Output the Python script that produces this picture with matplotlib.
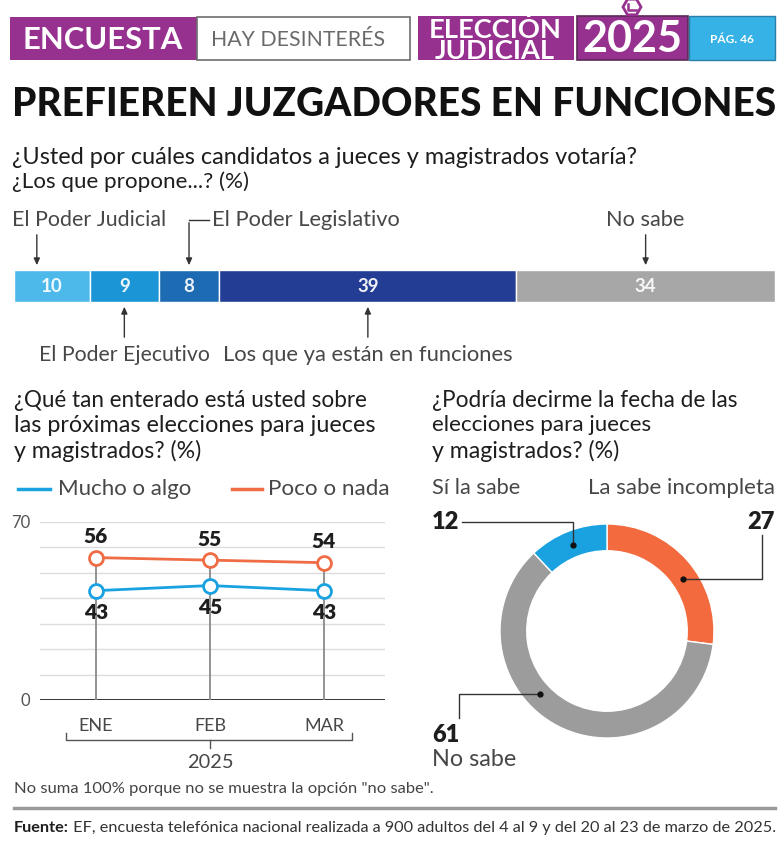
import matplotlib
matplotlib.use('Agg')
import matplotlib.pyplot as plt
import matplotlib.transforms as mtransforms
from matplotlib.patches import Rectangle, RegularPolygon
import numpy as np

W, H = 784, 849
plt.rcParams['font.family'] = ['Lato', 'DejaVu Sans']

# ---------------- data ----------------
bar_categories = ['El Poder Judicial', 'El Poder Ejecutivo', 'El Poder Legislativo',
                  'Los que ya están en funciones', 'No sabe']
bar_values = [10, 9, 8, 39, 34]
bar_colors = ['#4cb9ea', '#1c95d6', '#1d6cb3', '#223d93', '#a7a7a7']

months = ['ENE', 'FEB', 'MAR']
mucho_algo = [43, 45, 43]
poco_nada = [56, 55, 54]
y_ticks = [0, 70]

donut_labels = ['La sabe incompleta', 'No sabe', 'Sí la sabe']
donut_values = [27, 61, 12]
donut_colors = ['#f26a3d', '#9c9c9c', '#1aa2e0']

PURPLE = '#97318f'
DARK = '#1e1e1e'
GRAY_TXT = '#474747'
BLUE_LINE = '#1aa2e0'
ORANGE_LINE = '#f06c45'

fig = plt.figure(figsize=(W / 100, H / 100), dpi=100)
canvas = fig.add_axes([0, 0, 1, 1])
canvas.set_xlim(0, W)
canvas.set_ylim(H, 0)
canvas.axis('off')


def px_axes(x0, y0, x1, y1):
    return fig.add_axes([x0 / W, 1 - y1 / H, (x1 - x0) / W, (y1 - y0) / H])


fits = []  # (text, target width)


def T(x, y, s, size=12, width=None, ax=None, **kw):
    ax = ax or canvas
    kw.setdefault('va', 'center')
    kw.setdefault('color', DARK)
    t = ax.text(x, y, s, fontsize=size, **kw)
    if width is not None:
        fits.append((t, width))
    return t


# ---------------- header ----------------
canvas.add_patch(Rectangle((10, 17), 187, 43, fc=PURPLE, ec='none'))
canvas.add_patch(Rectangle((197, 17), 213, 43, fc='white', ec='#6d6d6d', lw=1.2))
canvas.add_patch(Rectangle((418, 16), 156, 44, fc=PURPLE, ec='none'))
canvas.add_patch(Rectangle((577, 16), 111, 44, fc=PURPLE, ec='#5a2a55', lw=1.2))
canvas.add_patch(Rectangle((689, 16), 86, 44, fc='#36b2e6', ec='#2a7fa8', lw=1))
canvas.add_patch(RegularPolygon((632, 7), 6, radius=9, orientation=np.pi / 6,
                                fc='white', ec=PURPLE, lw=2))
canvas.plot([628, 628, 636], [4, 10, 10], color=PURPLE, lw=1.8)

T(103, 40, 'ENCUESTA', 18, width=160, ha='center', color='white', fontweight='bold')
T(298, 40, 'HAY DESINTERÉS', 18, width=173, ha='center', color='#6a6a6a')
T(495, 40, 'ELECCIÓN\nJUDICIAL', 16, width=132, ha='center', multialignment='center',
  linespacing=0.85, color='white', fontweight='bold')
T(632, 39, '2025', 26, width=100, ha='center', color='white', fontweight='bold')
T(732, 39, 'PÁG. 46', 8, width=44, ha='center', color='white', fontweight='bold')

# ---------------- title ----------------
T(12, 104, 'PREFIEREN JUZGADORES EN FUNCIONES', 30, width=760, ha='left',
  color='#111111', fontweight='black')
T(12, 157, '¿Usted por cuáles candidatos a jueces y magistrados votaría?', 14,
  width=628, ha='left', color=DARK)
T(12, 182, '¿Los que propone...? (%)', 14, width=238, ha='left', color=DARK)

# ---------------- stacked bar ----------------
axb = px_axes(14, 270, 775, 302)
left = np.concatenate([[0], np.cumsum(bar_values)[:-1]])
axb.barh([0], bar_values, left=left, color=bar_colors, height=1.0,
         edgecolor='white', linewidth=1)
axb.set_xlim(0, sum(bar_values))
axb.set_ylim(-0.5, 0.5)
axb.axis('off')
for l, v in zip(left, bar_values):
    axb.text(l + v / 2, 0, str(v), ha='center', va='center', color='white',
             fontsize=13.5, fontweight='bold', alpha=0.92)

btr = mtransforms.blended_transform_factory(axb.transData, canvas.transData)
mid = left + np.array(bar_values) / 2
lab_kw = dict(color=GRAY_TXT, fontsize=13, va='center', transform=btr)
arrow_kw = dict(arrowstyle='-|>,head_length=0.4,head_width=0.18', color='#333333', lw=1)
# Judicial (above)
xj = left[0] + bar_values[0] * 0.3
t = axb.text(left[0] - 0.3, 220, bar_categories[0], ha='left', **lab_kw); fits.append((t, 153))
axb.annotate('', xy=(xj, 268), xytext=(xj, 232), xycoords=btr, textcoords=btr, arrowprops=arrow_kw)
# Legislativo (above, with stub)
xl = mid[2]
t = axb.text(xl + 3.0, 220, bar_categories[2], ha='left', **lab_kw); fits.append((t, 188))
axb.plot([xl, xl + 2.6], [220, 220], color='#333333', lw=1, transform=btr, clip_on=False)
axb.annotate('', xy=(xl, 268), xytext=(xl, 220), xycoords=btr, textcoords=btr, arrowprops=arrow_kw)
# No sabe (above)
xn = mid[4]
t = axb.text(xn, 220, bar_categories[4], ha='center', **lab_kw); fits.append((t, 78))
axb.annotate('', xy=(xn, 268), xytext=(xn, 232), xycoords=btr, textcoords=btr, arrowprops=arrow_kw)
# Ejecutivo (below)
xe = mid[1]
t = axb.text(xe, 355, bar_categories[1], ha='center', **lab_kw); fits.append((t, 170))
axb.annotate('', xy=(xe, 304), xytext=(xe, 340), xycoords=btr, textcoords=btr, arrowprops=arrow_kw)
# Los que ya están (below)
xf = mid[3]
t = axb.text(xf, 355, bar_categories[3], ha='center', **lab_kw); fits.append((t, 290))
axb.annotate('', xy=(xf, 304), xytext=(xf, 340), xycoords=btr, textcoords=btr, arrowprops=arrow_kw)

# ---------------- line chart ----------------
T(14, 400, '¿Qué tan enterado está usted sobre', 14, width=354, ha='left')
T(14, 425, 'las próximas elecciones para jueces', 14, width=362, ha='left')
T(14, 451, 'y magistrados? (%)', 14, width=188, ha='left')

canvas.plot([18, 50], [489, 489], color=BLUE_LINE, lw=2.5)
T(58, 489, 'Mucho o algo', 14, width=134, ha='left', color=GRAY_TXT)
canvas.plot([232, 262], [489, 489], color=ORANGE_LINE, lw=2.5)
T(268, 489, 'Poco o nada', 14, width=122, ha='left', color=GRAY_TXT)

axl = px_axes(40, 522, 385, 700)
xs = np.arange(len(months))
axl.set_xlim(-0.491, 2.535)
axl.set_ylim(0, 70)
for gy in range(10, 71, 10):
    axl.axhline(gy, color='#dcdcdc', lw=1, zorder=0)
axl.axhline(0, color='#222222', lw=2, zorder=1)
axl.vlines(xs, 0, np.maximum(mucho_algo, poco_nada), color='#8a8a8a', lw=1.3, zorder=1)
axl.plot(xs, poco_nada, color=ORANGE_LINE, lw=2, marker='o', ms=10, mfc='white',
         mew=2, zorder=3, clip_on=False)
axl.plot(xs, mucho_algo, color=BLUE_LINE, lw=2, marker='o', ms=10, mfc='white',
         mew=2, zorder=3, clip_on=False)
for x, v in zip(xs, poco_nada):
    axl.annotate(str(v), (x, v), xytext=(0, 15), textcoords='offset points',
                 ha='center', va='center', fontsize=15, fontweight='heavy', color=DARK)
for x, v in zip(xs, mucho_algo):
    axl.annotate(str(v), (x, v), xytext=(0, -15.5), textcoords='offset points',
                 ha='center', va='center', fontsize=15, fontweight='heavy', color=DARK)
axl.set_yticks(y_ticks)
axl.set_yticklabels([str(v) for v in y_ticks])
axl.set_xticks(xs)
axl.set_xticklabels(months)
axl.tick_params(axis='y', length=0, pad=7, labelsize=12, labelcolor='#555555')
axl.tick_params(axis='x', length=0, pad=13, labelsize=13, labelcolor=GRAY_TXT)
for s in axl.spines.values():
    s.set_visible(False)
axl.patch.set_alpha(0)

# bracket under months
canvas.plot([66, 66, 352, 352], [733, 740, 740, 733], color='#555555', lw=1)
canvas.plot([210, 210], [740, 748], color='#555555', lw=1)
T(210, 763, '2025', 13, width=46, ha='center', color=GRAY_TXT)

T(14, 789, 'No suma 100% porque no se muestra la opción "no sabe".', 9, width=418,
  ha='left', color='#444444')

# ---------------- donut ----------------
T(432, 400, '¿Podría decirme la fecha de las', 14, width=306, ha='left')
T(432, 425, 'elecciones para jueces', 14, width=220, ha='left')
T(432, 451, 'y magistrados? (%)', 14, width=188, ha='left')
T(432, 488, donut_labels[2], 13, width=88, ha='left', color=GRAY_TXT)
T(775, 488, donut_labels[0], 13, width=186, ha='right', color=GRAY_TXT)

axd = px_axes(500, 524, 714, 738)
axd.pie(donut_values, colors=donut_colors, startangle=90, counterclock=False,
        radius=1, wedgeprops=dict(width=0.25, edgecolor='white', linewidth=1))
axd.set_xlim(-1, 1)
axd.set_ylim(-1, 1)
axd.set_aspect('auto')
axd.axis('off')

cum = np.concatenate([[0], np.cumsum(donut_values)]) / sum(donut_values)
pos_frac = [0.57, 0.59, 0.5]  # where leaders touch each segment
rm = 0.86
dots = []
for i in range(3):
    f = cum[i] + (cum[i + 1] - cum[i]) * pos_frac[i]
    ang = np.deg2rad(90 - 360 * f)
    dots.append((rm * np.cos(ang), rm * np.sin(ang)))
lk = dict(color='#333333', lw=1, clip_on=False)
num_kw = dict(va='center', fontsize=17, fontweight='heavy', color=DARK)
# 27
ox, oy = dots[0]
axd.plot([ox, 1.449, 1.449], [oy, oy, 0.897], **lk)
axd.plot(ox, oy, 'o', color='#111111', ms=3.5, clip_on=False)
axd.text(1.570, 1.019, str(donut_values[0]), ha='right', **num_kw)
# 61
gx, gy = dots[1]
axd.plot([gx, -1.383, -1.383], [gy, gy, -0.813], **lk)
axd.plot(gx, gy, 'o', color='#111111', ms=3.5, clip_on=False)
axd.text(-1.636, -0.972, str(donut_values[1]), ha='left', **num_kw)
T(432, 760, donut_labels[1], 13, width=84, ha='left', color=GRAY_TXT)
# 12
bx, by = dots[2]
axd.plot([bx, bx, -1.355], [by, 1.019, 1.019], **lk)
axd.plot(bx, by, 'o', color='#111111', ms=3.5, clip_on=False)
axd.text(-1.636, 1.019, str(donut_values[2]), ha='left', **num_kw)

# ---------------- footer ----------------
canvas.plot([14, 775], [808, 808], color='#9a9a9a', lw=2.5)
f1 = canvas.text(14, 828, 'Fuente:', fontsize=9, fontweight='bold', color=DARK, va='center')
f2 = canvas.text(60, 828, ' EF, encuesta telefónica nacional realizada a 900 adultos del 4 al 9 y del 20 al 23 de marzo de 2025.',
                 fontsize=9, color='#333333', va='center')

# ---------------- fit text widths ----------------
fig.canvas.draw()
r = fig.canvas.get_renderer()
for t, wdt in fits:
    bb = t.get_window_extent(r)
    if bb.width > 0:
        t.set_fontsize(t.get_fontsize() * wdt / bb.width)
# footer fitting
for _ in range(2):
    fig.canvas.draw()
    w1 = f1.get_window_extent(r).width
    w2 = f2.get_window_extent(r).width
    sc = 761 / (w1 + w2)
    f1.set_fontsize(f1.get_fontsize() * sc)
    f2.set_fontsize(f2.get_fontsize() * sc)
    fig.canvas.draw()
    f2.set_x(14 + f1.get_window_extent(r).width)

fig.savefig('out.png', dpi=100)
